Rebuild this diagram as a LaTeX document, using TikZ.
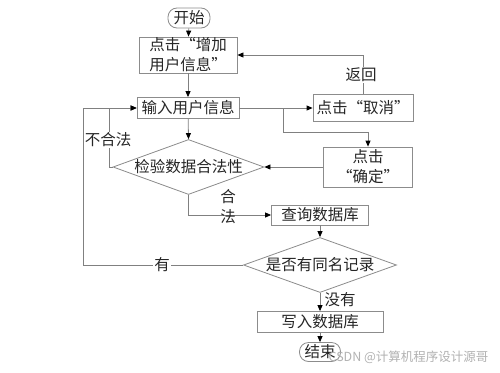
\documentclass[tikz,border=0pt]{standalone}
\usepackage{fontspec}
\setmainfont{Noto Sans CJK SC}
\usetikzlibrary{arrows.meta,shapes.geometric}
\begin{document}
\begin{tikzpicture}[x=1pt,y=-1pt,
  every node/.style={font=\fontsize{15.5}{20}\selectfont, text=black!85},
  box/.style={draw=black!45, line width=0.8pt, inner sep=0pt},
  term/.style={draw=black!45, line width=0.8pt, inner sep=0pt, rounded corners=9pt},
  dia/.style={draw=black!45, line width=0.8pt, diamond, inner sep=0pt, aspect=2.75},
  line/.style={draw=black!50, line width=0.8pt},
  arr/.style={line, -{Triangle[length=6pt,width=5pt,color=black]}},
  lab/.style={fill=white, inner sep=1pt}]
\useasboundingbox (0,0) rectangle (500,372);
\fill[white] (0,0) rectangle (500,372);
% nodes
\node[term, minimum width=42, minimum height=20] (start) at (189,18) {开始};
\node[box, minimum width=98, minimum height=36, align=left] (add) at (188,55) {点击“增加\\用户信息”};
\node[box, minimum width=102, minimum height=21] (input) at (188,108) {输入用户信息};
\node[box, minimum width=100, minimum height=27] (cancel) at (363,108) {点击“取消”};
\node[box, minimum width=89, minimum height=40, align=center] (confirm) at (368,167) {点击\\“确定”};
\node[dia, minimum width=151, minimum height=55] (check) at (188.5,167) {};
\node at (check) {检验数据合法性};
\node[box, minimum width=97, minimum height=20] (query) at (320,215) {查询数据库};
\node[dia, minimum width=153, minimum height=55] (dup) at (320,265) {};
\node at (dup) {是否有同名记录};
\node[box, minimum width=126, minimum height=21] (write) at (320,322) {写入数据库};
\node[term, minimum width=41, minimum height=19] (end) at (320,352) {结束};
% junctions
\coordinate (j1) at (283,108);
\coordinate (j2) at (283,132);
\coordinate (j3) at (109,167);
\coordinate (j4) at (83,265);
\coordinate (j5) at (83,108);
% connectors
\draw[arr] (start) -- (add);
\draw[arr] (add) -- (input);
\draw[arr] (input.east) -- (cancel.west);
\draw[arr] (j1) -- (j2) -| (confirm.north);
\draw[arr] (cancel.north) |- (add.east);
\draw[arr] (input) -- (check.north);
\draw[arr] (confirm.west) -- (check.east);
\draw[arr] (check.west) -- (j3) |- (input.west);
\draw[arr] (check.south) |- (query.west);
\draw[arr] (query) -- (dup.north);
\draw[arr] (dup.west) -- (j4) -- (j5) -- (input.west);
\draw[arr] (dup.south) -- (write);
\draw[arr] (write) -- (end);
% labels
\node[lab] (lret) at (361,75) {返回};
\node[lab] (lbad) at (108,140) {不合法};
\node[lab] (lhas) at (162,265) {有};
\node[align=center, inner sep=0pt] (lok) at (228,207) {合\\法};
\node (lno) at (340,300) {没有};
% watermark
\node[text=black!30, font=\fontsize{12.5}{14}\selectfont, anchor=east] (wm) at (492,357) {CSDN @计算机程序设计源哥};
\end{tikzpicture}
\end{document}
